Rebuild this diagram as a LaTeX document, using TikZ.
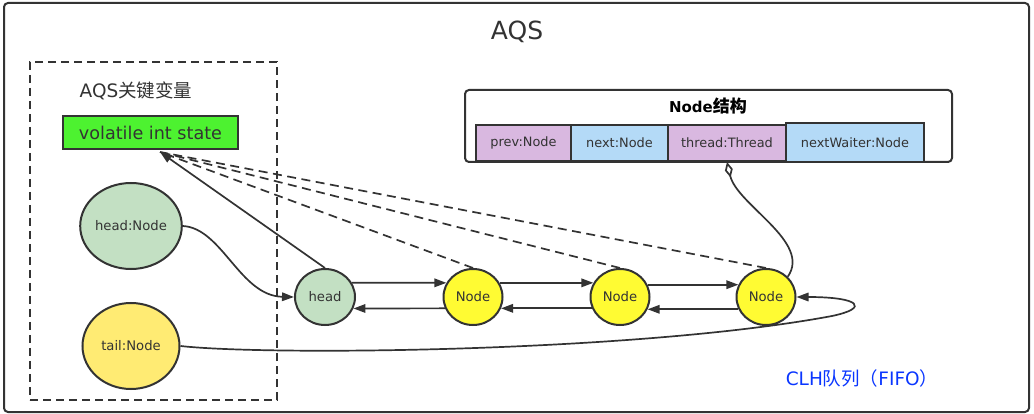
\documentclass[tikz,border=0pt]{standalone}
\usepackage{fontspec}
\setmainfont{DejaVu Sans}
\newfontfamily\cjk{Noto Sans CJK SC}
\usetikzlibrary{shapes.geometric,arrows.meta}
\definecolor{ink}{HTML}{333333}
\definecolor{stategreen}{HTML}{4DF230}
\definecolor{headgreen}{HTML}{C3E0C3}
\definecolor{tailyellow}{HTML}{FFEB73}
\definecolor{nodeyellow}{HTML}{FFFB33}
\definecolor{fpurple}{HTML}{D9B8E0}
\definecolor{fblue}{HTML}{B4DAF7}
\definecolor{clhblue}{HTML}{0A36FF}
\tikzset{
  ell/.style={ellipse, draw=ink, line width=2pt, inner sep=0pt, text=ink, font=\fontsize{13.2}{14}\selectfont},
  fieldbox/.style={draw=ink, line width=2pt, inner sep=0pt, minimum height=36pt, text=ink, font=\fontsize{12.9}{14}\selectfont},
  arr/.style={draw=ink, line width=1.7pt, -{Triangle[length=12pt,width=8.5pt]}},
  link/.style={draw=ink, line width=1.7pt},
  dlink/.style={draw=ink, line width=1.7pt, dash pattern=on 9pt off 5.5pt},
}
\begin{document}
\begin{tikzpicture}[x=1pt,y=-1pt]
\useasboundingbox (0,0) rectangle (1034,414);
% outer frame
\node[draw=ink, line width=2pt, rounded corners=4pt, minimum width=1025pt, minimum height=409pt, inner sep=0pt] (frame) at (516.5,207.5) {};
\node[text=ink, font=\fontsize{25}{27}\selectfont] (title) at (517,32) {AQS};
% dashed box
\node[draw=ink, line width=1.8pt, dash pattern=on 8pt off 5pt, minimum width=247pt, minimum height=338pt, inner sep=0pt] (vars) at (153.5,231) {};
\node[text=ink, font=\fontsize{18.5}{20}\selectfont] (varstitle) at (136,91) {AQS{\cjk 关键变量}};
\node[draw=ink, fill=stategreen, line width=2pt, minimum width=175pt, minimum height=33pt, inner sep=0pt, text=ink, font=\fontsize{17.6}{19}\selectfont] (vs) at (150.5,132.5) {volatile int state};
\coordinate (vst) at (160,152);
% ellipses
\node[ell, fill=headgreen, minimum width=97pt, minimum height=86pt] (hn) at (131,226) {head:Node};
\node[ell, fill=tailyellow, minimum width=97pt, minimum height=86pt] (tn) at (131,346) {tail:Node};
\node[ell, fill=headgreen, minimum width=60pt, minimum height=56pt] (hd) at (325,297) {head};
\node[ell, fill=nodeyellow, minimum width=59pt, minimum height=56pt] (n1) at (473,297) {Node};
\node[ell, fill=nodeyellow, minimum width=59pt, minimum height=56pt] (n2) at (620,297) {Node};
\node[ell, fill=nodeyellow, minimum width=59pt, minimum height=56pt] (n3) at (766,297) {Node};
% Node structure
\node[draw=ink, line width=2pt, rounded corners=4pt, minimum width=487pt, minimum height=72pt, inner sep=0pt] (ns) at (708.5,126) {};
\node[text=black, font=\bfseries\fontsize{15}{16}\selectfont] (nstitle) at (708,106) {Node{\cjk\fontsize{17}{18}\selectfont 结构}};
\node[fieldbox, fill=fpurple, minimum width=95pt] (prev) at (523.5,143) {prev:Node};
\node[fieldbox, fill=fblue, minimum width=97pt] (next) at (619.5,143) {next:Node};
\node[fieldbox, fill=fpurple, minimum width=118pt] (th) at (727,143) {thread:Thread};
\node[fieldbox, fill=fblue, minimum width=138pt, minimum height=39pt] (nw) at (855,142.5) {nextWaiter:Node};
% CLH label
\node[text=clhblue, font=\fontsize{18.5}{20}\selectfont] (clh) at (862,378) {CLH{\cjk 队列（}FIFO{\cjk ）}};
% dashed references to state
\draw[dlink] (n1.north) -- (vst);
\draw[dlink] (n2.north) -- (vst);
\draw[dlink] (n3.north) -- (vst);
\draw[arr] (hd.north) -- (vst);
% queue links
\draw[arr] (hd.28) -- (n1.152);
\draw[arr] (n1.-158) -- (hd.-22);
\draw[arr] (n1.28) -- (n2.152);
\draw[arr] (n2.-158) -- (n1.-22);
\draw[arr] (n2.24) -- (n3.156);
\draw[arr] (n3.-156) -- (n2.-24);
% head / tail pointers
\draw[arr] (hn.east) .. controls (222,228) and (240,296) .. (hd.west);
\draw[arr] (tn.east) .. controls (270,356) and (640,352) .. (832,316) .. controls (870,308) and (860,297) .. (n3.east);
% thread link
\draw[link, {Diamond[open,length=16pt,width=8pt]}-] (th.south) .. controls (737,205) and (812,242) .. (n3.43);
\end{tikzpicture}
\end{document}
